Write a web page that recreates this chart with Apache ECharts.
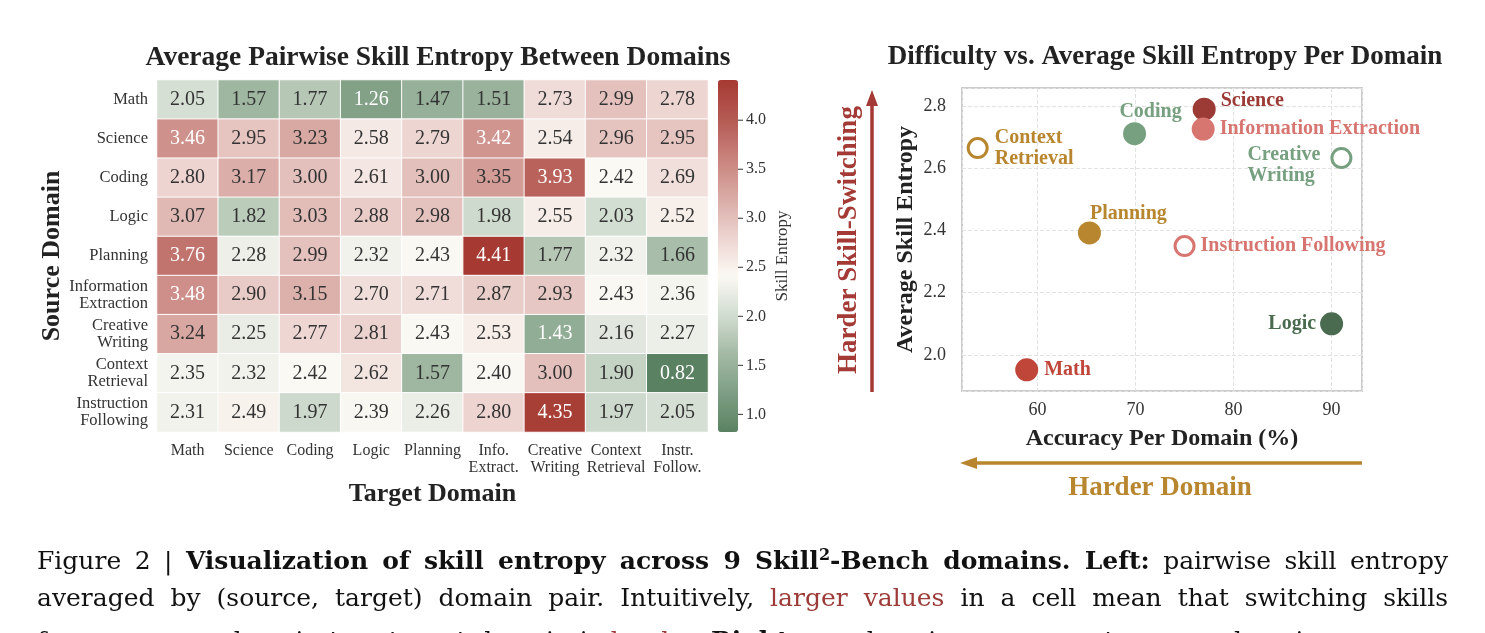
<!DOCTYPE html>
<html>
<head>
<meta charset="utf-8">
<script src="https://cdn.jsdelivr.net/npm/echarts@6/dist/echarts.min.js"></script>
<style>
  body { margin: 0; background: #fff; overflow: hidden; }
  #main { position: absolute; left: 0; top: 0; width: 1485px; height: 633px; }
  .cap { position: absolute; left: 37px; width: 1411px; height: 35px; line-height: 35px;
    font-family: "DejaVu Serif", "Liberation Serif", serif; font-size: 25px; color: #111;
    text-align: justify; text-align-last: justify; white-space: nowrap; }
  .cap .red { color: #9c3b37; }
  .cap sup { font-size: 16px; line-height: 0; }
</style>
</head>
<body>
<div id="main"></div>
<div class="cap" style="top:543px">Figure 2 | <b>Visualization of skill entropy across 9 Skill<sup>2</sup>-Bench domains. Left:</b> pairwise skill entropy</div>
<div class="cap" style="top:580px">averaged by (source, target) domain pair. Intuitively, <span class="red">larger values</span> in a cell mean that switching skills</div>
<div class="cap" style="top:623px">from a source domain to a target domain is <span class="red">harder</span>. <b>Right:</b> per-domain average entropy vs. domain accuracy.</div>
<script>
// 热力图数据：行 = 源领域，列 = 目标领域
var sourceDomains = ['Math', 'Science', 'Coding', 'Logic', 'Planning', 'Information\nExtraction',
  'Creative\nWriting', 'Context\nRetrieval', 'Instruction\nFollowing'];
var targetDomains = ['Math', 'Science', 'Coding', 'Logic', 'Planning', 'Info.\nExtract.',
  'Creative\nWriting', 'Context\nRetrieval', 'Instr.\nFollow.'];
var entropy = [
  [2.05, 1.57, 1.77, 1.26, 1.47, 1.51, 2.73, 2.99, 2.78],
  [3.46, 2.95, 3.23, 2.58, 2.79, 3.42, 2.54, 2.96, 2.95],
  [2.80, 3.17, 3.00, 2.61, 3.00, 3.35, 3.93, 2.42, 2.69],
  [3.07, 1.82, 3.03, 2.88, 2.98, 1.98, 2.55, 2.03, 2.52],
  [3.76, 2.28, 2.99, 2.32, 2.43, 4.41, 1.77, 2.32, 1.66],
  [3.48, 2.90, 3.15, 2.70, 2.71, 2.87, 2.93, 2.43, 2.36],
  [3.24, 2.25, 2.77, 2.81, 2.43, 2.53, 1.43, 2.16, 2.27],
  [2.35, 2.32, 2.42, 2.62, 1.57, 2.40, 3.00, 1.90, 0.82],
  [2.31, 2.49, 1.97, 2.39, 2.26, 2.80, 4.35, 1.97, 2.05]
];
var colorbarTicks = [1.0, 1.5, 2.0, 2.5, 3.0, 3.5, 4.0];

// 散点图数据：每个领域的准确率和平均技能熵
var pointNames = ['Math', 'Planning', 'Coding', 'Science', 'Information Extraction',
  'Instruction Following', 'Creative\nWriting', 'Logic', 'Context\nRetrieval'];
var accuracy = [58.9, 65.3, 69.9, 77.0, 76.9, 75.0, 91.0, 90.0, 53.9];
var avgEntropy = [1.952, 2.392, 2.711, 2.790, 2.726, 2.350, 2.633, 2.100, 2.665];
var hollow = [false, false, false, false, false, true, true, false, true];

var red = '#a33a35', gold = '#b8862f';
var pointColors = ['#c0463a', gold, '#76a07f', '#9c3a36', '#d77570', '#d77570', '#76a07f', '#4a6b4f', gold];
var labelPos = [
  { position: 'right', distance: 6 },
  { position: 'top', offset: [39, 7], distance: 4 },
  { position: 'top', offset: [16, 2], distance: 2 },
  { position: 'right', offset: [0, -8], distance: 5 },
  { position: 'right', distance: 5 },
  { position: 'right', distance: 5 },
  { position: [-83, -3], align: 'left', verticalAlign: 'top' },
  { position: 'left', distance: 4 },
  { position: 'right', distance: 6 }
];

var serif = '"Liberation Serif", "Times New Roman", serif';

var heatData = [];
entropy.forEach(function (row, r) {
  row.forEach(function (v, c) {
    var light = v >= 3.4 || v <= 1.45;
    heatData.push({ value: [c, r, v], label: { color: light ? '#ffffff' : '#333333' } });
  });
});

var scatterData = pointNames.map(function (n, i) {
  var col = pointColors[i];
  return {
    name: n,
    value: [accuracy[i], avgEntropy[i]],
    symbolSize: hollow[i] ? 19 : 23,
    itemStyle: hollow[i] ? { color: '#ffffff', borderColor: col, borderWidth: 3, opacity: 1 } : { color: col, opacity: 1 },
    label: Object.assign({ color: col }, labelPos[i])
  };
});

var myChart = echarts.init(document.getElementById('main'));

var option = {
  animation: false,
  textStyle: { fontFamily: serif },
  title: [
    { text: 'Average Pairwise Skill Entropy Between Domains', left: 433, top: 39, textAlign: 'center',
      textStyle: { fontFamily: serif, fontSize: 27.5, fontWeight: 'bold', color: '#222' } },
    { text: 'Difficulty vs. Average Skill Entropy Per Domain', left: 1160, top: 39, textAlign: 'center',
      textStyle: { fontFamily: serif, fontSize: 27, fontWeight: 'bold', color: '#222' } }
  ],
  grid: [
    { left: 157, top: 80, width: 551, height: 352 },
    { left: 962, top: 88, width: 400, height: 303, show: true, borderColor: '#cccccc', borderWidth: 2 },
    { left: 718, top: 80, width: 20, height: 352 }
  ],
  xAxis: [
    { type: 'category', gridIndex: 0, data: targetDomains,
      axisLine: { show: false }, axisTick: { show: false }, splitLine: { show: false },
      axisLabel: { interval: 0, fontSize: 16, lineHeight: 17, color: '#333', margin: 10 },
      name: 'Target Domain', nameLocation: 'middle', nameGap: 44,
      nameTextStyle: { fontSize: 26, fontWeight: 'bold', color: '#222' } },
    { type: 'value', gridIndex: 1, min: 52.3, max: 93.1,
      axisLine: { show: false }, axisTick: { show: false },
      splitLine: { lineStyle: { color: '#e2e2e2', type: 'dashed' } },
      axisLabel: { fontSize: 18, color: '#333', margin: 10, showMinLabel: false, showMaxLabel: false },
      name: 'Accuracy Per Domain (%)', nameLocation: 'middle', nameGap: 36,
      nameTextStyle: { fontSize: 24, fontWeight: 'bold', color: '#222' } },
    { type: 'value', gridIndex: 2, show: false, min: 0, max: 1 }
  ],
  yAxis: [
    { type: 'category', gridIndex: 0, data: sourceDomains, inverse: true,
      axisLine: { show: false }, axisTick: { show: false }, splitLine: { show: false },
      axisLabel: { fontSize: 16.5, lineHeight: 17, color: '#333', margin: 9 },
      name: 'Source Domain', nameLocation: 'middle', nameGap: 84,
      nameTextStyle: { fontSize: 26, fontWeight: 'bold', color: '#222' } },
    { type: 'value', gridIndex: 1, min: 1.884, max: 2.858,
      axisLine: { show: false }, axisTick: { show: false },
      splitLine: { lineStyle: { color: '#e2e2e2', type: 'dashed' } },
      axisLabel: { fontSize: 18, color: '#333', margin: 16, showMinLabel: false, showMaxLabel: false,
        formatter: function (v) { return v.toFixed(1); } },
      name: 'Average Skill Entropy', nameLocation: 'middle', nameGap: 44,
      nameTextStyle: { fontSize: 24, fontWeight: 'bold', color: '#222' } },
    { type: 'value', gridIndex: 2, position: 'right', min: 0.82, max: 4.41,
      axisLine: { show: false }, splitLine: { show: false }, axisTick: { show: false },
      axisLabel: { customValues: colorbarTicks, color: '#333', margin: 0,
        formatter: function (v) { return '{t|}{v|' + v.toFixed(1) + '}'; },
        rich: {
          t: { width: 5, height: 1, backgroundColor: '#333' },
          v: { fontSize: 16, color: '#333', padding: [0, 0, 0, 3], fontFamily: serif }
        } },
      name: 'Skill Entropy', nameLocation: 'middle', nameRotate: 90, nameGap: 36,
      nameTextStyle: { fontSize: 17, color: '#333' } }
  ],
  visualMap: {
    type: 'continuous', seriesIndex: 0, min: 0.82, max: 4.41,
    calculable: false, left: 718, top: 80, itemWidth: 20, itemHeight: 352, padding: 0,
    inRange: { color: ['#5a8262', '#7e9e84', '#a4baa5', '#d2ddd1', '#fbf9f4',
      '#ecd3cf', '#d9aaa5', '#c9827c', '#b45a53', '#a63a32'] }
  },
  series: [
    { type: 'heatmap', xAxisIndex: 0, yAxisIndex: 0, data: heatData,
      itemStyle: { borderColor: '#ffffff', borderWidth: 1 },
      label: { show: true, fontSize: 20, fontFamily: serif,
        formatter: function (p) { return p.value[2].toFixed(2); } } },
    { type: 'scatter', xAxisIndex: 1, yAxisIndex: 1, data: scatterData, z: 5,
      label: { show: true, formatter: '{b}', fontSize: 20, fontWeight: 'bold', fontFamily: serif, lineHeight: 21 } }
  ],
  graphic: [
    { type: 'line', shape: { x1: 872, y1: 392, x2: 872, y2: 102 }, style: { stroke: red, lineWidth: 3.5 } },
    { type: 'polygon', shape: { points: [[872, 90], [866, 106], [878, 106]] }, style: { fill: red } },
    { type: 'text', x: 849, y: 240, rotation: Math.PI / 2,
      style: { text: 'Harder Skill-Switching', fill: red, font: 'bold 27px ' + serif, align: 'center', verticalAlign: 'middle' } },
    { type: 'line', shape: { x1: 1362, y1: 463, x2: 975, y2: 463 }, style: { stroke: gold, lineWidth: 3.5 } },
    { type: 'polygon', shape: { points: [[960, 463], [977, 457], [977, 469]] }, style: { fill: gold } },
    { type: 'text', x: 1160, y: 488,
      style: { text: 'Harder Domain', fill: gold, font: 'bold 27px ' + serif, align: 'center', verticalAlign: 'middle' } }
  ]
};

myChart.setOption(option);
</script>
</body>
</html>
